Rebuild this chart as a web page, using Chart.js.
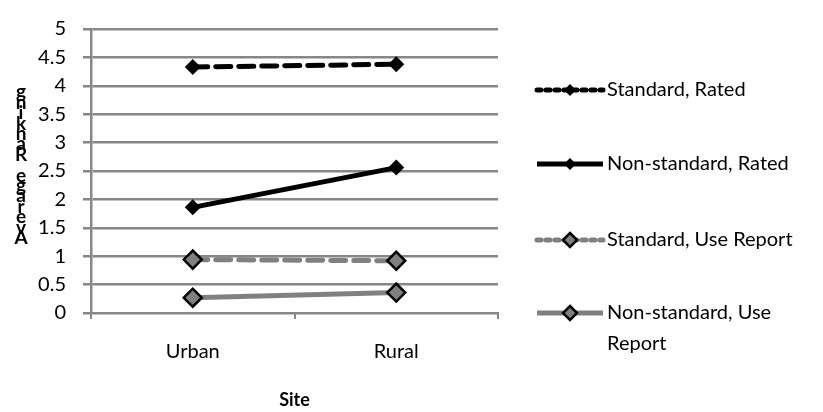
<!DOCTYPE html>
<html>
<head>
<meta charset="utf-8">
<script src="https://cdn.jsdelivr.net/npm/chart.js@4/dist/chart.umd.min.js"></script>
<style>
  html, body { margin: 0; padding: 0; background: #ffffff; }
  #wrap { width: 823px; height: 412px; position: relative; }
</style>
</head>
<body>
<div id="wrap"><canvas id="chart" width="823" height="412"></canvas></div>
<script>
// Sites on the x axis
const sites = ['Urban', 'Rural'];

// Average ranking per site for each condition
const standardRated = [4.33, 4.38];
const nonStandardRated = [1.86, 2.56];
const standardUseReport = [0.94, 0.92];
const nonStandardUseReport = [0.27, 0.36];

// Value axis ticks
const yTickLabels = ['0', '0.5', '1', '1.5', '2', '2.5', '3', '3.5', '4', '4.5', '5'];

// Series names (legend text; the last one wraps to two lines)
const seriesNames = ['Standard, Rated', 'Non-standard, Rated', 'Standard, Use Report', 'Non-standard, Use Report'];
const legendLines = [['Standard, Rated'], ['Non-standard, Rated'], ['Standard, Use Report'], ['Non-standard, Use', 'Report']];

// Axis titles
const yTitle = 'Average Ranking';
const xTitle = 'Site';

const BLACK = '#000000';
const GREY = '#808080';
const GRID = '#878787';
const FONT = 'Lato, "Open Sans", sans-serif';

const seriesStyles = [
  { line: BLACK, dash: [15, 8], width: 5, fill: BLACK, border: BLACK, r: 8, bw: 0, legendDash: [4, 5], legendR: 6 },
  { line: BLACK, dash: [], width: 5, fill: BLACK, border: BLACK, r: 8, bw: 0, legendDash: [], legendR: 6 },
  { line: GREY, dash: [15, 8], width: 5, fill: GREY, border: BLACK, r: 9, bw: 2.5, legendDash: [4, 5], legendR: 7 },
  { line: GREY, dash: [], width: 5, fill: GREY, border: BLACK, r: 9, bw: 2.5, legendDash: [], legendR: 7 }
];

const seriesData = [standardRated, nonStandardRated, standardUseReport, nonStandardUseReport];

const datasets = seriesData.map((vals, i) => {
  const s = seriesStyles[i];
  return {
    label: seriesNames[i],
    data: vals,
    borderColor: s.line,
    borderWidth: s.width,
    borderDash: s.dash,
    borderCapStyle: s.dash.length ? 'round' : 'butt',
    pointStyle: 'rectRot',
    pointRadius: s.r,
    pointHoverRadius: s.r,
    pointBackgroundColor: s.fill,
    pointBorderColor: s.border,
    pointBorderWidth: s.bw,
    tension: 0,
    fill: false
  };
});

function diamond(ctx, x, y, r, fill, border, bw) {
  ctx.save();
  ctx.setLineDash([]);
  ctx.beginPath();
  ctx.moveTo(x, y - r);
  ctx.lineTo(x + r, y);
  ctx.lineTo(x, y + r);
  ctx.lineTo(x - r, y);
  ctx.closePath();
  ctx.fillStyle = fill;
  ctx.fill();
  if (bw > 0) {
    ctx.lineWidth = bw;
    ctx.strokeStyle = border;
    ctx.stroke();
  }
  ctx.restore();
}

// Draws the stacked y title, the x title and the legend on the right
const decorations = {
  id: 'decorations',
  afterDraw(chart) {
    const ctx = chart.ctx;
    const area = chart.chartArea;
    ctx.save();

    // y title: letters stacked bottom-to-top
    ctx.font = 'bold 19px ' + FONT;
    ctx.fillStyle = '#000';
    ctx.textAlign = 'center';
    ctx.textBaseline = 'alphabetic';
    const chars = Array.from(yTitle);
    chars.forEach((ch, i) => {
      ctx.fillText(ch, 21, 244 - i * 10.4);
    });

    // x title
    ctx.font = 'bold 18px ' + FONT;
    ctx.textBaseline = 'middle';
    ctx.fillText(xTitle, (area.left + area.right) / 2, 400);

    // legend
    const rows = [90, 164, 240, 313];
    const x0 = 537, x1 = 603, xm = 570;
    ctx.font = '20px ' + FONT;
    ctx.textAlign = 'left';
    ctx.textBaseline = 'middle';
    seriesStyles.forEach((s, i) => {
      const y = rows[i];
      ctx.save();
      ctx.strokeStyle = s.line;
      ctx.lineWidth = s.width;
      ctx.setLineDash(s.legendDash);
      ctx.lineCap = s.legendDash.length ? 'round' : 'butt';
      ctx.beginPath();
      ctx.moveTo(x0, y);
      ctx.lineTo(x1, y);
      ctx.stroke();
      ctx.restore();
      diamond(ctx, xm, y, s.legendR, s.fill, s.border, s.bw);
      ctx.fillStyle = '#000';
      legendLines[i].forEach((t, k) => {
        ctx.fillText(t, 607, y + k * 31);
      });
    });
    ctx.restore();
  }
};

new Chart(document.getElementById('chart'), {
  type: 'line',
  data: { labels: sites, datasets: datasets },
  plugins: [decorations],
  options: {
    responsive: false,
    animation: false,
    events: [],
    layout: { padding: { top: 17, right: 325, bottom: 0, left: 0 } },
    plugins: {
      legend: { display: false },
      tooltip: { enabled: false }
    },
    scales: {
      x: {
        type: 'category',
        offset: true,
        grid: {
          offset: true,
          drawOnChartArea: false,
          drawTicks: true,
          tickLength: 6,
          color: GRID,
          lineWidth: 2
        },
        border: { display: true, color: GRID, width: 2 },
        ticks: {
          color: '#000',
          padding: 21,
          maxRotation: 0,
          font: { family: FONT, size: 20 }
        },
        afterFit(scale) { scale.height = 99; }
      },
      y: {
        min: 0,
        max: 5,
        ticks: {
          stepSize: 0.5,
          color: '#000',
          padding: 17,
          font: { family: FONT, size: 20 },
          callback: (value, index) => yTickLabels[index]
        },
        grid: {
          color: GRID,
          lineWidth: 2.5,
          tickLength: 8,
          drawTicks: true
        },
        border: { display: true, color: GRID, width: 2.5 },
        afterFit(scale) { scale.width = 91; }
      }
    }
  }
});
</script>
</body>
</html>
